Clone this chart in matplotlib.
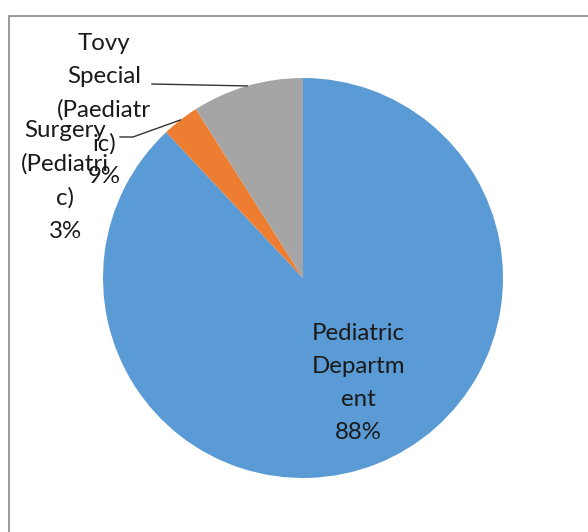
import numpy as np
import matplotlib
matplotlib.use("Agg")
import matplotlib.pyplot as plt
from matplotlib.patches import Rectangle

plt.rcParams['font.family'] = ['Lato', 'DejaVu Sans']

departments = ["Pediatric\nDepartm\nent", "Surgery\n(Pediatri\nc)", "Tovy\nSpecial\n(Paediatr\nic)"]
shares = [88, 3, 9]
colors = ["#5B9BD5", "#ED7D31", "#A5A5A5"]

W, H = 588, 532
CX, CY, R = 303, 278, 200  # pie centre and radius in pixels


def px(x, y):
    # pixel position -> data coordinates (pie radius = 1)
    return (x - CX) / R, (CY - y) / R


fig = plt.figure(figsize=(W / 100, H / 100), dpi=100)
ax = fig.add_axes([0, 0, 1, 1])

wedges, _ = ax.pie(shares, colors=colors, startangle=90, counterclock=False,
                   radius=1, center=(0, 0), wedgeprops=dict(linewidth=0))
ax.set_xlim(-CX / R, (W - CX) / R)
ax.set_ylim(-(H - CY) / R, CY / R)
ax.axis("off")

# chart-area border (runs off the right and bottom edges)
fig.patches.append(Rectangle((8.5 / W, -0.1), 1.2, 1 - 16 / H + 0.1,
                             transform=fig.transFigure, fill=False,
                             edgecolor="#898989", linewidth=1.2))

labels = [f"{d}\n{s}%" for d, s in zip(departments, shares)]
label_pos = [px(358, 383), px(65, 181), px(104, 110)]
fs = 17.3

# leader lines: elbow points near the text, ending at the wedge's arc midpoint
elbows = [None, [px(120, 137), px(133, 137)], [px(152, 84)]]

for w, lab, pos, elb in zip(wedges, labels, label_pos, elbows):
    ax.text(pos[0], pos[1], lab, ha="center", va="center", fontsize=fs,
            color="#1a1a1a", linespacing=1.7)
    if elb is None:
        continue
    mid = np.deg2rad((w.theta1 + w.theta2) / 2)
    pts = elb + [(np.cos(mid), np.sin(mid))]
    xs, ys = zip(*pts)
    ax.plot(xs, ys, color="#333333", linewidth=1)

fig.savefig("out.png", dpi=100)
